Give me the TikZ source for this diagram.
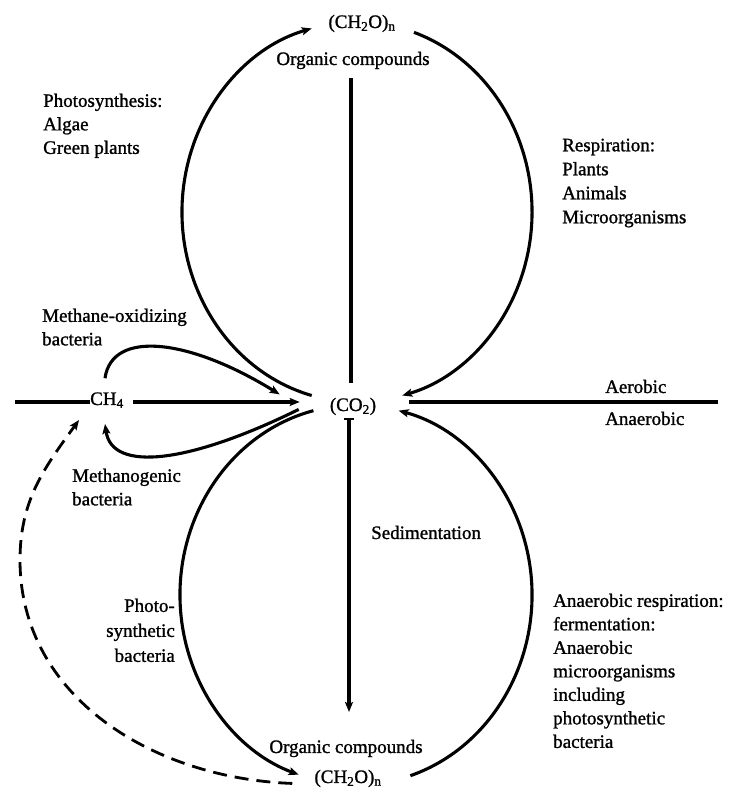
\documentclass[tikz,border=0pt]{standalone}
\usepackage{fontspec}
\setmainfont{Liberation Serif}[FakeBold=1.2]
\usetikzlibrary{arrows.meta,calc}
\tikzset{
  lbl/.style={font=\fontsize{19}{23.5}\selectfont, inner sep=0pt, align=left},
  chem/.style={font=\fontsize{19}{23.5}\selectfont, inner sep=0pt},
  curve/.style={line width=3.1pt},
  tip/.tip={Stealth[length=10pt,width=8pt,inset=2pt]},
  arr/.style={curve, -tip},
  dashedarr/.style={line width=2.8pt, dash pattern=on 14pt off 8pt, -tip},
}
\begin{document}
\begin{tikzpicture}[x=1pt,y=1pt]
\useasboundingbox (0,0) rectangle (736,794);

% chemical nodes
\node[chem, anchor=base] (top)   at (362,766) {(CH\textsubscript{2}O)\textsubscript{n}};
\node[chem, anchor=base] (topoc) at (353,729) {Organic compounds};
\node[chem, anchor=base] (co2)   at (353,383) {(CO\textsubscript{2})};
\node[chem, anchor=base] (ch4)   at (107,389) {CH\textsubscript{4}};
\node[chem, anchor=base] (botoc) at (346,41)  {Organic compounds};
\node[chem, anchor=base] (bot)   at (348,11)  {(CH\textsubscript{2}O)\textsubscript{n}};

% labels
\node[lbl, anchor=north west] (lphoto) at (43,700.5) {Photosynthesis:\\Algae\\Green plants};
\node[lbl, anchor=north west, font=\fontsize{19}{24}\selectfont] (lresp) at (562,655.5) {Respiration:\\Plants\\Animals\\Microorganisms};
\node[lbl, anchor=north west] (lmox) at (42,485.5) {Methane-oxidizing\\bacteria};
\node[lbl, anchor=north west] (lmgen) at (72,325.5) {Methanogenic\\bacteria};
\node[lbl, anchor=north east, align=right, font=\fontsize{19}{25}\selectfont] (lpsb) at (175,195.5) {Photo-\\synthetic\\bacteria};
\node[lbl, anchor=north west] (lanr) at (553,200.5) {Anaerobic respiration:\\fermentation:\\Anaerobic\\microorganisms\\including\\photosynthetic\\bacteria};
\node[lbl, anchor=base west] (lsed) at (371,255) {Sedimentation};
\node[lbl, anchor=base west] (laer) at (605,401) {Aerobic};
\node[lbl, anchor=base west] (lanaer) at (605,369) {Anaerobic};

% top circle
\coordinate (tc) at (357,582);
\coordinate (tlA) at ($(tc)+(255:175 and 190)$);
\coordinate (trA) at ($(tc)+(71:175 and 190)$);
\draw[arr] (tlA) arc[start angle=255, end angle=105, x radius=175, y radius=190];
\draw[arr] (trA) arc[start angle=71, end angle=-75, x radius=175, y radius=190];

% bottom circle
\coordinate (bc) at (356,199);
\coordinate (blA) at ($(bc)+(104:176 and 190)$);
\coordinate (brA) at ($(bc)+(-72:176 and 190)$);
\draw[arr] (blA) arc[start angle=104, end angle=251, x radius=176, y radius=190];
\draw[arr] (brA) arc[start angle=-72, end angle=76, x radius=176, y radius=190];

% vertical lines
\draw[curve] ($(topoc.south)+(-2,-9)$) -- ($(co2.north)+(-2,15)$);
\coordinate (vb) at (349,82);
\draw[curve, {Bar[width=10pt,line width=2pt]}-tip] ($(co2.south -| vb)+(0,-3)$) -- (vb);

% horizontal lines
\coordinate (lend) at (15,392);
\coordinate (rend) at (718,392);
\draw[curve] (lend) -- (lend -| ch4.west);
\draw[arr] ($(ch4.east |- lend)+(9,0)$) -- ($(co2.west |- lend)+(-30,0)$);
\draw[curve] ($(co2.east |- rend)+(33,0)$) -- (rend);

% CH4 loops
\draw[arr] ($(ch4.north)+(-2,14)$) .. controls (112,465) and (190,455) .. ($(co2.west)+(-50,12)$);
\draw[arr] ($(co2.west)+(-31,-3)$) .. controls (190,331) and (112,321) .. ($(ch4.south)+(-2,-16)$);

% dashed return
\coordinate (dl) at (20,234);
\draw[dashedarr] ($(bot.west)+(-22,-5)$) to[out=178,in=-90] (dl) to[out=90,in=234] ($(ch4.south west)+(-11,-12)$);

\end{tikzpicture}
\end{document}
